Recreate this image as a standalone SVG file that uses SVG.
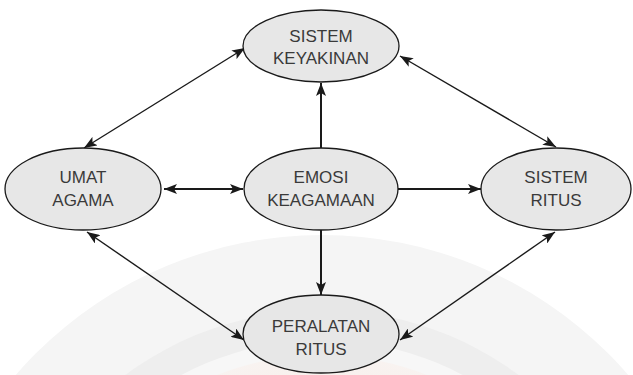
<svg xmlns="http://www.w3.org/2000/svg" width="633" height="375" viewBox="0 0 633 375">
  <defs>
    <marker id="head" viewBox="0 0 13 10" refX="13" refY="5" markerWidth="13" markerHeight="10" markerUnits="userSpaceOnUse" orient="auto-start-reverse">
      <path d="M0,0 L13,5 L0,10 L3,5 Z" fill="#1a1a1a"/>
    </marker>
    <radialGradient id="warm" cx="0.5" cy="0.5" r="0.5">
      <stop offset="0.55" stop-color="#f6c9b8" stop-opacity="0.55"/>
      <stop offset="1" stop-color="#fbe9e1" stop-opacity="0.3"/>
    </radialGradient>
  </defs>
  <style>
    .node ellipse { fill: #e7e7e7; stroke: #1a1a1a; stroke-width: 1.3; }
    .node text { font-family: "Liberation Sans", Arial, sans-serif; font-size: 17px; fill: #3a3a3a; text-anchor: middle; }
    .edge { stroke: #1a1a1a; stroke-width: 1.4; fill: none; }
    .edge.thick { stroke-width: 2; }
  </style>

  <rect width="633" height="375" fill="#ffffff"/>

  <!-- faint background emblem -->
  <g id="backdrop">
    <circle cx="322" cy="640" r="405" fill="#f5f5f5"/>
    <circle cx="322" cy="640" r="330" fill="#eeeeee"/>
    <circle cx="322" cy="640" r="300" fill="#f7f7f7"/>
    <circle cx="322" cy="640" r="285" fill="url(#warm)"/>
  </g>

  <g id="connectors">
    <line class="edge thick" x1="164" y1="189" x2="243" y2="189" marker-start="url(#head)" marker-end="url(#head)"/>
    <line class="edge thick" x1="398" y1="189" x2="481" y2="189" marker-end="url(#head)"/>
    <line class="edge thick" x1="321" y1="148" x2="321" y2="83" marker-end="url(#head)"/>
    <line class="edge thick" x1="321" y1="230" x2="321" y2="295" marker-end="url(#head)"/>
    <line class="edge" x1="245" y1="48" x2="84" y2="148" marker-start="url(#head)" marker-end="url(#head)"/>
    <line class="edge" x1="400" y1="56" x2="556" y2="147" marker-start="url(#head)" marker-end="url(#head)"/>
    <line class="edge" x1="87" y1="232" x2="244" y2="340" marker-start="url(#head)" marker-end="url(#head)"/>
    <line class="edge" x1="555" y1="232" x2="400" y2="340" marker-start="url(#head)" marker-end="url(#head)"/>
  </g>

  <g id="sistem-keyakinan" class="node">
    <ellipse cx="321" cy="46" rx="78" ry="36"/>
    <text x="321" y="42">SISTEM</text>
    <text x="321" y="64">KEYAKINAN</text>
  </g>

  <g id="umat-agama" class="node">
    <ellipse cx="83" cy="189" rx="78" ry="41"/>
    <text x="83" y="183">UMAT</text>
    <text x="83" y="206">AGAMA</text>
  </g>

  <g id="emosi-keagamaan" class="node">
    <ellipse cx="321" cy="189" rx="77" ry="41"/>
    <text x="321" y="183">EMOSI</text>
    <text x="321" y="206">KEAGAMAAN</text>
  </g>

  <g id="sistem-ritus" class="node">
    <ellipse cx="556" cy="189" rx="75" ry="41"/>
    <text x="556" y="183">SISTEM</text>
    <text x="556" y="206">RITUS</text>
  </g>

  <g id="peralatan-ritus" class="node">
    <ellipse cx="321" cy="334" rx="78" ry="39"/>
    <text x="321" y="332">PERALATAN</text>
    <text x="321" y="355">RITUS</text>
  </g>
</svg>
